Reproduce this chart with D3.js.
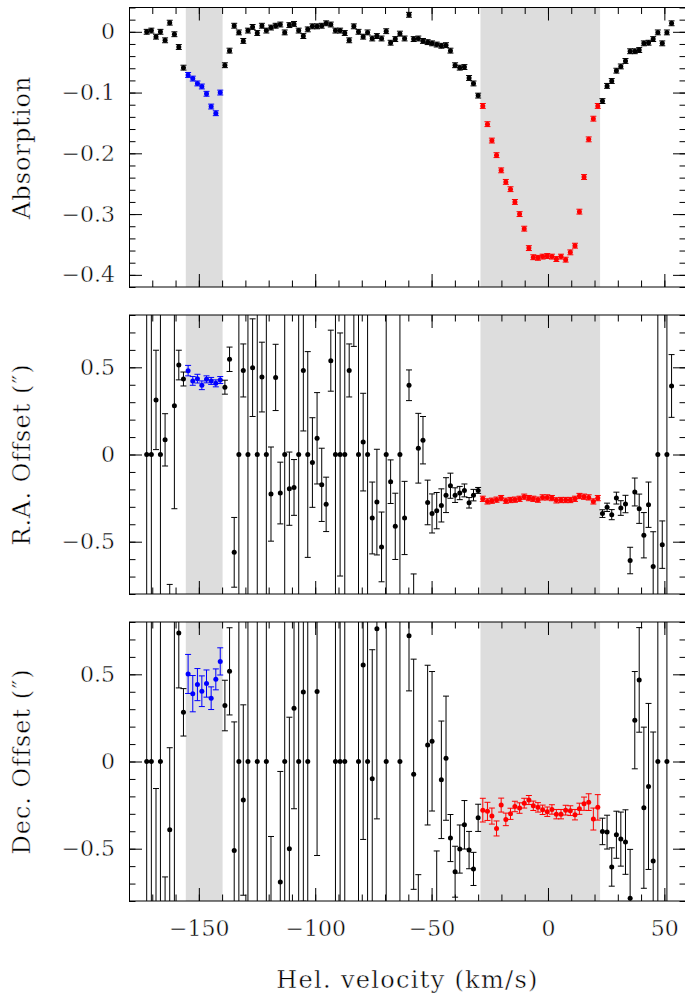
<!DOCTYPE html>
<html>
<head>
<meta charset="utf-8">
<script src="https://cdn.jsdelivr.net/npm/d3@7"></script>
<style>
  html, body { margin: 0; padding: 0; background: #fff; }
  svg { display: block; }
  text { font-family: "DejaVu Serif", serif; fill: #000; stroke: #fff; stroke-width: 0.45px; }
</style>
</head>
<body>
<svg id="chart" width="685" height="1001"></svg>
<script>
// Heliocentric velocity of each spectral channel (km/s)
const velocity = [
  -172.4, -170.4, -168.4, -166.5, -164.5, -162.5, -160.5, -158.6, -156.6, -154.6,
  -152.6, -150.6, -148.7, -146.7, -144.7, -142.7, -140.8, -138.8, -136.8, -134.8,
  -132.8, -130.9, -128.9, -126.9, -124.9, -122.9, -121.0, -119.0, -117.0, -115.0,
  -113.1, -111.1, -109.1, -107.1, -105.1, -103.2, -101.2, -99.2, -97.2, -95.3,
  -93.3, -91.3, -89.3, -87.3, -85.4, -83.4, -81.4, -79.4, -77.5, -75.5,
  -73.5, -71.5, -69.5, -67.6, -65.6, -63.6, -61.6, -59.7, -57.7, -55.7,
  -53.7, -51.7, -49.8, -47.8, -45.8, -43.8, -41.9, -39.9, -37.9, -35.9,
  -33.9, -32.0, -30.0, -28.0, -26.0, -24.1, -22.1, -20.1, -18.1, -16.1,
  -14.2, -12.2, -10.2, -8.2, -6.3, -4.3, -2.3, -0.3, 1.7, 3.6,
  5.6, 7.6, 9.6, 11.6, 13.5, 15.5, 17.5, 19.5, 21.4, 23.4,
  25.4, 27.4, 29.4, 31.3, 33.3, 35.3, 37.3, 39.2, 41.2, 43.2,
  45.2, 47.2, 49.1, 51.1, 53.1
];

// Absorption depth per channel
const absorption = [
  0.000, 0.002, -0.008, 0.000, -0.014, 0.015, -0.004, -0.025, -0.059, -0.071,
  -0.077, -0.085, -0.090, -0.102, -0.123, -0.134, -0.100, -0.055, -0.031, 0.010,
  -0.001, -0.015, 0.002, 0.008, -0.002, 0.010, 0.002, 0.007, 0.010, 0.012,
  -0.001, 0.011, 0.013, 0.002, -0.007, 0.004, 0.009, 0.009, 0.010, 0.014,
  0.012, 0.002, 0.002, -0.002, -0.014, 0.009, 0.000, -0.008, -0.001, -0.011,
  -0.007, -0.011, 0.001, -0.018, -0.012, -0.003, -0.011, 0.028, -0.012, -0.011,
  -0.015, -0.017, -0.019, -0.021, -0.023, -0.022, -0.031, -0.055, -0.059, -0.058,
  -0.076, -0.085, -0.105, -0.122, -0.152, -0.179, -0.203, -0.228, -0.247, -0.259,
  -0.280, -0.300, -0.324, -0.356, -0.371, -0.372, -0.370, -0.369, -0.370, -0.374,
  -0.370, -0.375, -0.363, -0.352, -0.296, -0.239, -0.177, -0.143, -0.122, -0.114,
  -0.089, -0.081, -0.064, -0.057, -0.048, -0.032, -0.032, -0.030, -0.019, -0.018,
  -0.012, -0.001, -0.019, -0.001, 0.014
];
const absorptionErr = 0.004;

// Right-ascension offset of the absorption centroid (arcsec) and its error
const raOffset = [
  0, 0, 0.313, 0, 0.084, -1.0, 0.279, 0.513, 0.433, 0.481,
  0.422, 0.435, 0.397, 0.431, 0.422, 0.408, 0.427, 0.386, 0.546, -0.561,
  0, 0.482, 0, 0.498, 0, 0.444, 0, -0.227, 0.442, -0.221,
  0, -0.196, -0.189, 0, 0.482, 0, -0.046, 0.093, -0.174, -0.286,
  0.538, 0, 0, 0, 0.482, 0.95, 0, 0.071, 0, -0.364,
  -0.273, -0.530, 0, -0.156, -0.412, 0, -0.364, 0.397, -0.95, 0.036,
  0.082, -0.275, -0.338, -0.322, -0.292, -0.233, -0.179, -0.233, -0.221, -0.206,
  -0.277, -0.233, -0.206, -0.254, -0.269, -0.265, -0.259, -0.250, -0.265, -0.261,
  -0.259, -0.254, -0.242, -0.250, -0.254, -0.259, -0.246, -0.246, -0.250, -0.263,
  -0.261, -0.261, -0.261, -0.254, -0.238, -0.242, -0.246, -0.269, -0.250, -0.339,
  -0.303, -0.345, -0.250, -0.307, -0.284, -0.608, -0.215, -0.311, -0.463, -0.288,
  -0.643, 0, -0.517, 0, 0.393
];
const raErr = [
  2, 2, 0.285, 2, 0.15, 0.255, 0.59, 0.085, 0.04, 0.03,
  0.025, 0.025, 0.025, 0.02, 0.02, 0.02, 0.02, 0.04, 0.07, 0.2,
  2, 0.152, 2, 0.28, 2, 0.2, 2, 0.27, 0.19, 0.177,
  2, 0.21, 0.16, 2, 0.347, 0.59, 0.257, 0.262, 0.21, 0.156,
  0.175, 2, 0.697, 2, 0.152, 0.33, 2, 0.28, 2, 0.206,
  0.303, 0.2, 2, 0.125, 0.19, 2, 0.21, 0.088, 0.265, 0.2,
  0.136, 0.128, 0.112, 0.104, 0.095, 0.1, 0.072, 0.042, 0.038, 0.037,
  0.03, 0.033, 0.017, 0.015, 0.015, 0.015, 0.015, 0.015, 0.015, 0.015,
  0.015, 0.015, 0.015, 0.015, 0.015, 0.015, 0.015, 0.015, 0.015, 0.015,
  0.015, 0.015, 0.015, 0.015, 0.015, 0.015, 0.015, 0.015, 0.015, 0.022,
  0.024, 0.029, 0.034, 0.042, 0.05, 0.076, 0.08, 0.084, 0.13, 0.13,
  0.2, 2, 0.136, 2, 0.18
];

// Declination offset (arcsec) and its error; null where the channel has no estimate
const decOffset = [
  0, 0, -1.0, 0, -1.0, -0.391, 1.0, 0.737, 0.282, 0.502,
  0.389, 0.441, 0.403, 0.447, 0.363, 0.471, 0.574, 0.321, 0.517, -0.510,
  0, -0.221, 0, null, 0, null, 0, -1.0, null, -0.691,
  0, -0.500, 0.305, 0, 0.399, 0, null, 0.401, null, null,
  null, 0, 0, 0, null, null, 0, 0.553, 0, -0.099,
  0.761, null, 0, null, null, 0, null, 0.721, -0.073, -1.0,
  null, 0.094, 0.116, -1.0, -0.105, 0.019, -0.439, -0.632, -0.502, -0.363,
  -0.508, -0.616, -0.323, -0.279, -0.286, -0.313, -0.384, -0.250, -0.332, -0.300,
  -0.258, -0.267, -0.239, -0.221, -0.254, -0.263, -0.277, -0.288, -0.275, -0.302,
  -0.302, -0.279, -0.282, -0.305, -0.271, -0.242, -0.233, -0.330, -0.263, -0.401,
  -0.405, -0.605, -0.420, -0.445, -0.462, -0.784, 0.237, 0.468, -0.265, -0.143,
  -0.571, 0, null, 0, null
];
const decErr = [
  2, 2, 0.845, 2, 0.338, 0.47, 2, 0.315, 0.136, 0.112,
  0.104, 0.092, 0.088, 0.078, 0.065, 0.06, 0.078, 0.145, 0.25, 0.737,
  2, 0.546, 2, null, 2, null, 2, 0.57, null, 0.634,
  2, 0.754, 0.576, 2, 1.2, 2, null, 0.94, null, null,
  null, 2, 2, 2, null, null, 2, 1.0, 2, 0.74,
  1.09, null, 2, null, null, 2, null, 0.316, 0.66, 0.351,
  null, 0.458, 0.40, 0.487, 0.337, 0.356, 0.135, 0.146, 0.138, 0.139,
  0.107, 0.095, 0.078, 0.068, 0.052, 0.046, 0.043, 0.04, 0.036, 0.032,
  0.03, 0.03, 0.028, 0.026, 0.027, 0.027, 0.027, 0.027, 0.027, 0.027,
  0.027, 0.028, 0.028, 0.03, 0.032, 0.038, 0.048, 0.063, 0.073, 0.076,
  0.097, 0.11, 0.135, 0.155, 0.185, 0.28, 0.279, 0.3, 0.462, 0.476,
  0.74, 2, null, 2, null
];

// Velocity windows of the two absorption components (km/s)
const blueBand = [-155.6, -139.8];
const redBand = [-29.0, 22.4];

// Tick labels
const velocityTicks = [-150, -100, -50, 0, 50];
const absorptionTicks = [0, -0.1, -0.2, -0.3, -0.4];
const offsetTicks = [0.5, 0, -0.5];

const svg = d3.select("#chart");
const x = d3.scaleLinear().domain([-180, 59.3]).range([129, 686]);

const panels = [
  { title: "Absorption", values: absorption, errors: velocity.map(() => absorptionErr),
    domain: [-0.42, 0.04], top: 7.5, bottom: 287, major: absorptionTicks, minorCount: 23 },
  { title: "R.A. Offset (\u2033)", values: raOffset, errors: raErr,
    domain: [-0.8, 0.8], top: 315, bottom: 594, major: offsetTicks, minorCount: 16 },
  { title: "Dec. Offset (\u2033)", values: decOffset, errors: decErr,
    domain: [-0.8, 0.8], top: 622, bottom: 901, major: offsetTicks, minorCount: 16 }
];

const inBand = (v, b) => v >= b[0] && v <= b[1];
const colorOf = v => inBand(v, blueBand) ? "#0000ff" : inBand(v, redBand) ? "#ff0000" : "#000000";

const fmt = d => d === 0 ? "0" : d3.format(".1f")(d);
const majorLen = 13, minorLen = 6.5;
const left = x.range()[0], right = x.range()[1];

panels.forEach((p, pi) => {
  const y = d3.scaleLinear().domain(p.domain).range([p.bottom, p.top]);
  const g = svg.append("g");
  const clipId = "clip" + pi;
  svg.append("clipPath").attr("id", clipId)
    .append("rect").attr("x", left).attr("y", p.top)
    .attr("width", right - left).attr("height", p.bottom - p.top);

  // shaded velocity windows
  [blueBand, redBand].forEach(b => {
    g.append("rect")
      .attr("x", x(b[0])).attr("y", p.top)
      .attr("width", x(b[1]) - x(b[0])).attr("height", p.bottom - p.top)
      .attr("fill", "#dddddd");
  });

  // data with error bars
  const pts = velocity.map((v, i) => ({ v, val: p.values[i], err: p.errors[i] }))
    .filter(d => d.val !== null);
  const data = g.append("g").attr("clip-path", `url(#${clipId})`);
  const cap = 3;
  const bars = data.selectAll("g.pt").data(pts).join("g").attr("class", "pt")
    .attr("stroke", d => colorOf(d.v)).attr("fill", d => colorOf(d.v))
    .attr("stroke-width", 1);
  bars.append("line")
    .attr("x1", d => x(d.v)).attr("x2", d => x(d.v))
    .attr("y1", d => y(d.val - d.err)).attr("y2", d => y(d.val + d.err));
  bars.append("line")
    .attr("x1", d => x(d.v) - cap).attr("x2", d => x(d.v) + cap)
    .attr("y1", d => y(d.val + d.err)).attr("y2", d => y(d.val + d.err));
  bars.append("line")
    .attr("x1", d => x(d.v) - cap).attr("x2", d => x(d.v) + cap)
    .attr("y1", d => y(d.val - d.err)).attr("y2", d => y(d.val - d.err));
  bars.append("circle")
    .attr("cx", d => x(d.v)).attr("cy", d => y(d.val)).attr("r", 2.5)
    .attr("stroke", "none");

  // inward ticks on all four sides
  const minorX = x.ticks(24), minorY = y.ticks(p.minorCount);
  const addAxis = (axis, tx, ty) => {
    const a = g.append("g").attr("transform", `translate(${tx},${ty})`).call(axis);
    a.select(".domain").remove();
    a.selectAll("line").attr("stroke", "#000");
    return a;
  };
  addAxis(d3.axisBottom(x).tickValues(minorX).tickSize(-minorLen).tickFormat(""), 0, p.bottom);
  addAxis(d3.axisTop(x).tickValues(minorX).tickSize(-minorLen).tickFormat(""), 0, p.top);
  addAxis(d3.axisBottom(x).tickValues(velocityTicks).tickSize(-majorLen).tickFormat(""), 0, p.bottom);
  addAxis(d3.axisTop(x).tickValues(velocityTicks).tickSize(-majorLen).tickFormat(""), 0, p.top);
  addAxis(d3.axisLeft(y).tickValues(minorY).tickSize(-minorLen).tickFormat(""), left, 0);
  addAxis(d3.axisRight(y).tickValues(minorY).tickSize(-minorLen).tickFormat(""), right, 0);
  addAxis(d3.axisRight(y).tickValues(p.major).tickSize(-majorLen).tickFormat(""), right, 0);
  const yAx = addAxis(d3.axisLeft(y).tickValues(p.major).tickSize(-majorLen)
    .tickPadding(majorLen + 1).tickFormat(fmt), left, 0);
  yAx.selectAll("text").attr("font-size", 22).attr("font-family", null).attr("fill", null);

  if (pi === panels.length - 1) {
    const xAx = addAxis(d3.axisBottom(x).tickValues(velocityTicks).tickSize(0)
      .tickPadding(19).tickFormat(d3.format("")), 0, p.bottom);
    xAx.selectAll("text").attr("font-size", 22).attr("font-family", null).attr("fill", null);
  }

  // frame
  g.append("rect").attr("x", left + 0.5).attr("y", p.top)
    .attr("width", right - left).attr("height", p.bottom - p.top)
    .attr("fill", "none").attr("stroke", "#000").attr("stroke-width", 1);

  // y title
  g.append("text")
    .attr("transform", `translate(30,${(p.top + p.bottom) / 2}) rotate(-90)`)
    .attr("text-anchor", "middle").attr("font-size", 24).attr("letter-spacing", 1)
    .text(p.title);
});

svg.append("text")
  .attr("x", (left + right) / 2).attr("y", 988)
  .attr("text-anchor", "middle").attr("font-size", 24).attr("letter-spacing", 1.3)
  .text("Hel. velocity (km/s)");
</script>
</body>
</html>
